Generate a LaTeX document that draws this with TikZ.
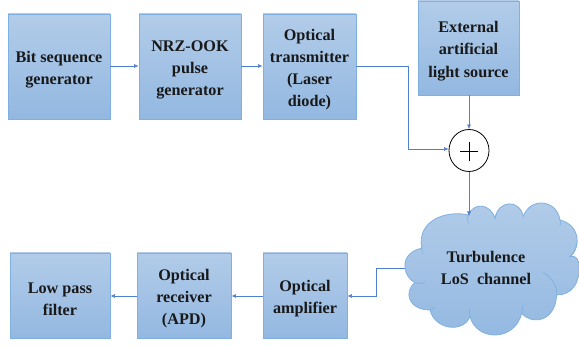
\documentclass[tikz,border=0pt]{standalone}
\usepackage{fontspec}
\setmainfont{Liberation Serif}
\usetikzlibrary{arrows.meta,shapes.geometric}
\definecolor{edgeblue}{HTML}{7FB0E0}
\definecolor{toptone}{HTML}{B2CCE9}
\definecolor{bottone}{HTML}{93B8E1}
\definecolor{linkblue}{HTML}{4F7FD0}
\newcommand{\lowerstrut}{\rule{0pt}{17.5pt}}
\tikzset{
  blockbox/.style={draw=edgeblue,line width=0.9pt,top color=toptone,bottom color=bottone,
    minimum width=#1,align=center,inner sep=0pt,font=\fontsize{16.2}{22.3}\selectfont\bfseries,text=black!90},
  link/.style={draw=linkblue,line width=0.6pt,-{Latex[length=4.5pt,width=4pt]}}
}
\begin{document}
\begin{tikzpicture}[x=1pt,y=-1pt]
\useasboundingbox (0,0) rectangle (579,347);
\fill[white] (0,0) rectangle (579,347);
\node[blockbox=102pt,minimum height=105pt] (bit) at (59,66.5) {\lowerstrut Bit sequence\\generator};
\node[blockbox=102pt,minimum height=105pt] (nrz) at (190,66.5) {\lowerstrut NRZ-OOK\\pulse\\generator};
\node[blockbox=93pt,minimum height=105pt] (tx) at (309.5,66.5) {\lowerstrut Optical\\transmitter\\(Laser\\diode)};
\node[blockbox=101pt,minimum height=94pt] (ext) at (468.5,48) {\lowerstrut External\\artificial\\light source};
\node[blockbox=100pt,minimum height=85pt] (lpf) at (60,295.5) {\lowerstrut Low pass\\filter};
\node[blockbox=94pt,minimum height=85pt] (rx) at (184,295.5) {\lowerstrut Optical\\receiver\\(APD)};
\node[blockbox=84pt,minimum height=85pt] (amp) at (305,295.5) {\lowerstrut Optical\\amplifier};
\node[draw=black,line width=0.8pt,fill=white,ellipse,minimum width=40pt,minimum height=42pt,inner sep=0pt] (sum) at (469,150.5) {};
\draw[black,line width=0.7pt] (460,151) -- (478,151) (469,142) -- (469,161);
\begin{scope}[shift={(380,100)},x=0.3333pt,y=-0.3333pt]
\path[draw=edgeblue,line width=0.8pt,top color=toptone,bottom color=bottone]
 (125,445) .. controls (105,448) and (72,465) .. (75,500)
 .. controls (76,525) and (90,540) .. (105,548)
 .. controls (70,575) and (85,630) .. (150,630)
 .. controls (165,690) and (250,700) .. (270,650)
 .. controls (290,725) and (405,725) .. (425,640)
 .. controls (450,672) and (525,672) .. (530,585)
 .. controls (575,585) and (600,550) .. (597,500)
 .. controls (597,480) and (590,465) .. (570,470)
 .. controls (605,440) and (600,375) .. (540,360)
 .. controls (530,298) and (450,290) .. (430,350)
 .. controls (420,298) and (355,298) .. (345,355)
 .. controls (330,308) and (280,308) .. (265,345)
 .. controls (200,330) and (110,360) .. (125,445) -- cycle;
\draw[edgeblue,line width=0.7pt]
 (125,445) .. controls (127,452) and (128,458) .. (127,462)
 (105,548) .. controls (112,550) and (125,552) .. (135,548)
 (150,630) .. controls (155,628) and (160,626) .. (165,622)
 (270,650) .. controls (268,640) and (268,632) .. (270,625)
 (425,640) .. controls (428,630) and (428,625) .. (428,618)
 (530,585) .. controls (532,560) and (515,530) .. (490,518)
 (570,470) .. controls (585,460) and (588,445) .. (590,430)
 (540,360) .. controls (542,365) and (542,370) .. (540,378)
 (345,355) .. controls (346,350) and (347,345) .. (350,340)
 (265,345) .. controls (262,350) and (262,360) .. (265,370);
\end{scope}
\node[align=center,inner sep=0pt,font=\fontsize{16.2}{22}\selectfont\bfseries,text=black!90] (chan) at (486,267.5) {Turbulence\\LoS~ channel};
\coordinate (cloudtop) at (469,216);
\coordinate (cloudleft) at (405,268);
\draw[link] (bit.east |- 0,66) -- (nrz.west |- 0,66);
\draw[link] (nrz.east |- 0,66) -- (tx.west |- 0,66);
\draw[link] (tx.east |- 0,66) -| (408,149) -- (sum.west |- 0,149);
\draw[link] (ext.south -| sum.north) -- (sum.north);
\draw[link] (sum.south) -- (cloudtop);
\draw[link] (cloudleft) -| (376,296) -- (amp.east |- 0,296);
\draw[link] (amp.west |- 0,296) -- (rx.east |- 0,296);
\draw[link] (rx.west |- 0,296) -- (lpf.east |- 0,296);
\end{tikzpicture}
\end{document}
